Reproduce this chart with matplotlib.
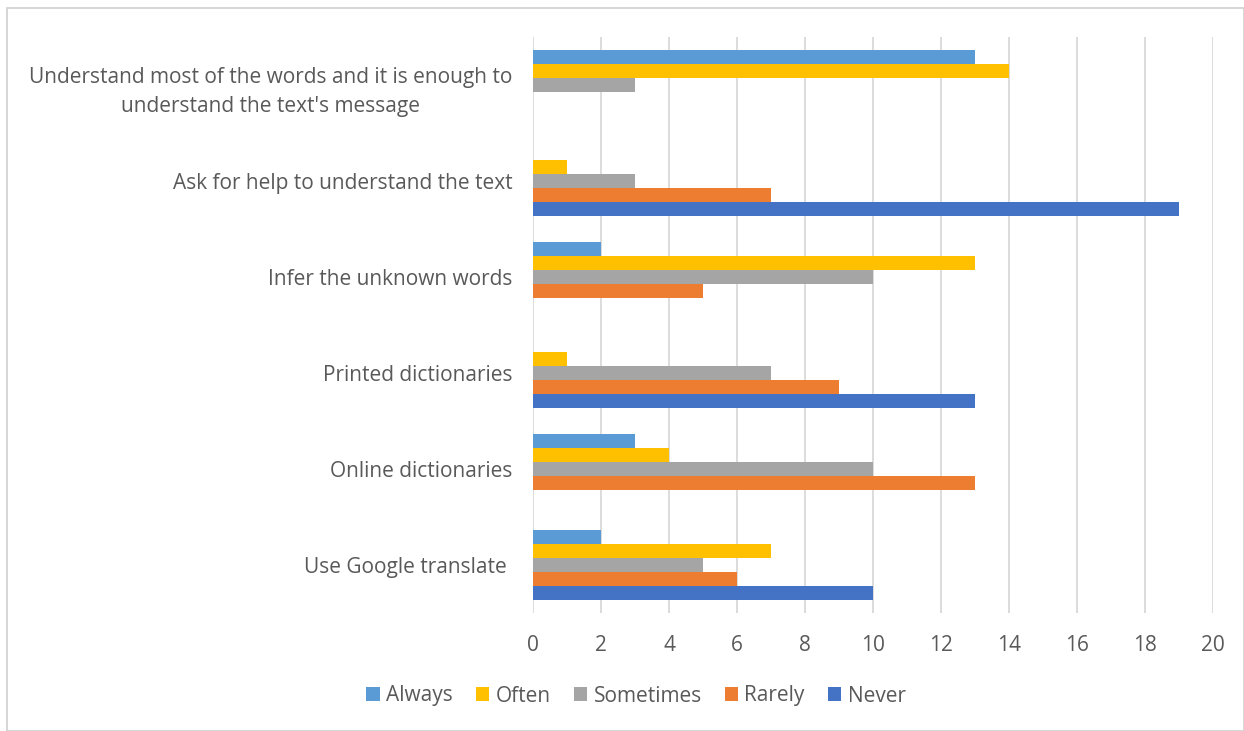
import matplotlib
matplotlib.use("Agg")
import matplotlib.pyplot as plt
from matplotlib.patches import Rectangle
import numpy as np

categories = [
    "Use Google translate ",
    "Online dictionaries",
    "Printed dictionaries",
    "Infer the unknown words",
    "Ask for help to understand the text",
    "Understand most of the words and it is enough to\nunderstand the text's message",
]
series_names = ["Always", "Often", "Sometimes", "Rarely", "Never"]
always = [2, 3, 0, 2, 0, 13]
often = [7, 4, 1, 13, 1, 14]
sometimes = [5, 10, 7, 10, 3, 3]
rarely = [6, 13, 9, 5, 7, 0]
never = [10, 0, 13, 0, 19, 0]
x_ticks = [0, 2, 4, 6, 8, 10, 12, 14, 16, 18, 20]

colors = ["#5B9BD5", "#FFC000", "#A5A5A5", "#ED7D31", "#4472C4"]
text_color = "#595959"
font = ["Open Sans", "DejaVu Sans"]
plt.rcParams["font.family"] = font

fig = plt.figure(figsize=(12.44, 7.31), dpi=100)
W, H = 1244, 731
ax = fig.add_axes([533 / W, (H - 613) / H, (1213 - 533) / W, (613 - 37) / H])

y = np.arange(len(categories))
h = 0.146
values = [always, often, sometimes, rarely, never]
for i, (name, vals, col) in enumerate(zip(series_names, values, colors)):
    offset = (2 - i) * h
    ax.barh(y + offset, vals, height=h, color=col, label=name, zorder=3)

ax.set_xlim(0, 20)
ax.set_ylim(-0.5, len(categories) - 0.5)
ax.set_xticks(x_ticks)
ax.set_yticks(y)
ax.set_yticklabels(categories, fontsize=15, color=text_color, ha="right",
                   multialignment="center", linespacing=1.55)
ax.tick_params(axis="x", labelsize=15, colors=text_color, length=0, pad=16)
ax.tick_params(axis="y", length=0, pad=15)
ax.xaxis.grid(True, color="#D9D9D9", linewidth=1.3, zorder=0)
for s in ax.spines.values():
    s.set_visible(False)

leg = fig.legend(loc="center", bbox_to_anchor=(636 / W, (H - 696) / H), ncol=5,
                 frameon=False, fontsize=15, handlelength=0.65, handleheight=0.65,
                 handletextpad=0.3, columnspacing=1.1)
for t in leg.get_texts():
    t.set_color(text_color)

fig.patches.append(Rectangle((7 / W, 0.5 / H), (W - 7.5) / W, (H - 8.5) / H,
                             transform=fig.transFigure, fill=False,
                             edgecolor="#D0D0D0", linewidth=1.2))

fig.savefig("out.png", dpi=100, facecolor="white")
